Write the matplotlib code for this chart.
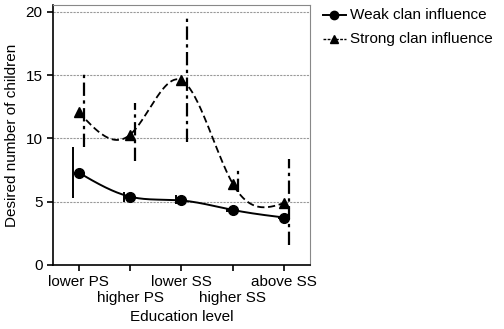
import matplotlib.pyplot as plt
import numpy as np

plt.rcParams['font.family'] = ['Liberation Sans', 'DejaVu Sans']

levels = ['lower PS', 'higher PS', 'lower SS', 'higher SS', 'above SS']
weak = [7.3, 5.4, 5.1, 4.35, 3.75]
weak_lo = [5.3, 5.0, 4.8, 4.2, 3.6]
weak_hi = [9.35, 5.8, 5.5, 4.5, 3.9]
strong = [12.1, 10.3, 14.6, 6.4, 4.9]
strong_lo = [9.3, 8.2, 9.7, 5.8, 1.6]
strong_hi = [15.2, 12.8, 19.6, 7.7, 8.4]

FS = 11


def natural_spline(x, y, n=200):
    # natural cubic spline through the points, only for drawing the smooth line
    x = np.asarray(x, float)
    y = np.asarray(y, float)
    k = len(x)
    h = np.diff(x)
    A = np.zeros((k, k))
    b = np.zeros(k)
    A[0, 0] = A[-1, -1] = 1
    for i in range(1, k - 1):
        A[i, i - 1] = h[i - 1]
        A[i, i] = 2 * (h[i - 1] + h[i])
        A[i, i + 1] = h[i]
        b[i] = 3 * ((y[i + 1] - y[i]) / h[i] - (y[i] - y[i - 1]) / h[i - 1])
    c = np.linalg.solve(A, b)
    xs = np.linspace(x[0], x[-1], n)
    ys = np.empty_like(xs)
    for j, t in enumerate(xs):
        i = min(np.searchsorted(x, t, side='right') - 1, k - 2)
        d = t - x[i]
        bb = (y[i + 1] - y[i]) / h[i] - h[i] * (2 * c[i] + c[i + 1]) / 3
        dd = (c[i + 1] - c[i]) / (3 * h[i])
        ys[j] = y[i] + bb * d + c[i] * d ** 2 + dd * d ** 3
    return xs, ys


xpos = np.arange(len(levels))

fig = plt.figure(figsize=(5.04, 3.29), dpi=100)
ax = fig.add_axes([53 / 504, 64 / 329, 257 / 504, 260 / 329])

ax.set_ylim(0, 20.55)
ax.set_xlim(-0.5, 4.5)
ax.set_yticks([0, 5, 10, 15, 20])
for v in [5, 10, 15, 20]:
    ax.axhline(v, color='#999999', lw=0.8, ls=(0, (2, 1)), zorder=0)

# weak clan influence
xs, ys = natural_spline(xpos, weak)
ax.plot(xs, ys, color='black', lw=1.4)
ax.plot(xpos, weak, 'o', color='black', ms=7)
ax.vlines(xpos - 0.11, weak_lo, weak_hi, color='black', lw=1.4)

# strong clan influence
xs, ys = natural_spline(xpos, strong)
ax.plot(xs, ys, color='black', lw=1.3, ls=(0, (4, 2)))
ax.plot(xpos, strong, '^', color='black', ms=7)
ax.vlines(xpos + 0.1, strong_lo, strong_hi, color='black', lw=1.6,
          ls=(0, (6, 2, 1.5, 2)))

ax.set_xticks(xpos)
ax.set_xticklabels(levels, fontsize=FS)
ax.tick_params(axis='both', direction='out', length=4, width=1.2, colors='black',
               labelsize=FS)
for i, t in enumerate(ax.xaxis.get_major_ticks()):
    t.set_pad(3 if i % 2 == 0 else 15)
ax.set_xlabel('Education level', fontsize=FS, labelpad=3)
ax.set_ylabel('Desired number of children', fontsize=FS, labelpad=5)

for s in ['left', 'bottom']:
    ax.spines[s].set_linewidth(1.2)
for s in ['top', 'right']:
    ax.spines[s].set_color('#888888')
    ax.spines[s].set_linewidth(0.8)

# legend outside on the right
y1 = 1 - 15 / 329
y2 = 1 - 39 / 329
fig.add_artist(plt.Line2D([323 / 504, 346 / 504], [y1, y1], color='black', lw=1.4))
fig.add_artist(plt.Line2D([334 / 504], [y1], color='black', marker='o', ms=6))
fig.add_artist(plt.Line2D([323 / 504, 346 / 504], [y2, y2], color='black',
                          lw=1.0, ls=(0, (2, 1))))
fig.add_artist(plt.Line2D([334 / 504], [y2], color='black', marker='^', ms=6))
fig.text(350 / 504, y1, 'Weak clan influence', fontsize=FS, va='center', ha='left')
fig.text(350 / 504, y2, 'Strong clan influence', fontsize=FS, va='center', ha='left')

fig.savefig('out.png', dpi=100)
